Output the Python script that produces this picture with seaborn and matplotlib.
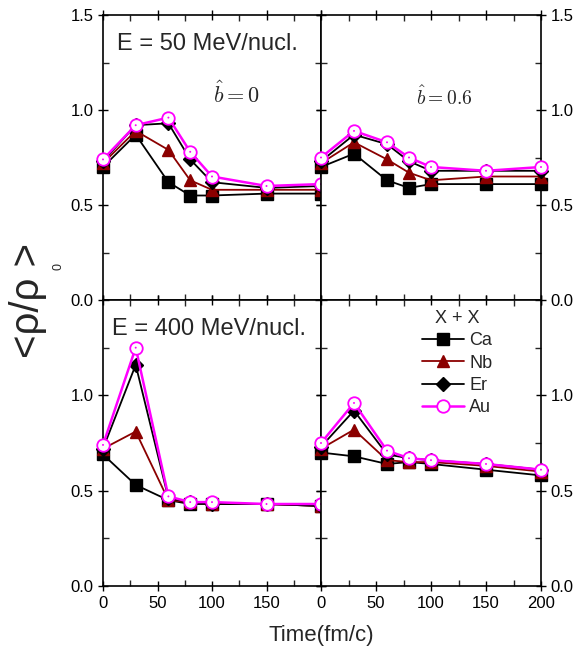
import matplotlib
matplotlib.use("Agg")
import matplotlib.pyplot as plt
import seaborn as sns
import numpy as np
import pandas as pd
from matplotlib.ticker import MultipleLocator

sns.set_theme(style="ticks")
plt.rcParams['font.family'] = ['Liberation Sans', 'DejaVu Sans']

time = [0, 30, 60, 80, 100, 150, 200]
systems = ["Ca", "Nb", "Er", "Au"]

# E = 50 MeV/nucl., b = 0
e50_b0_ca = [0.70, 0.87, 0.62, 0.55, 0.55, 0.56, 0.56]
e50_b0_nb = [0.72, 0.89, 0.79, 0.63, 0.58, 0.58, 0.58]
e50_b0_er = [0.73, 0.92, 0.93, 0.74, 0.62, 0.59, 0.60]
e50_b0_au = [0.74, 0.92, 0.96, 0.78, 0.65, 0.60, 0.61]
# E = 50 MeV/nucl., b = 0.6
e50_b6_ca = [0.70, 0.77, 0.63, 0.59, 0.61, 0.61, 0.61]
e50_b6_nb = [0.72, 0.83, 0.74, 0.67, 0.63, 0.65, 0.65]
e50_b6_er = [0.73, 0.87, 0.82, 0.73, 0.68, 0.68, 0.68]
e50_b6_au = [0.75, 0.89, 0.83, 0.75, 0.70, 0.68, 0.70]
# E = 400 MeV/nucl., b = 0
e400_b0_ca = [0.69, 0.53, 0.45, 0.43, 0.43, 0.43, 0.42]
e400_b0_nb = [0.72, 0.81, 0.45, 0.44, 0.43, 0.43, 0.42]
e400_b0_er = [0.72, 1.16, 0.46, 0.44, 0.43, 0.43, 0.42]
e400_b0_au = [0.74, 1.25, 0.47, 0.44, 0.44, 0.43, 0.43]
# E = 400 MeV/nucl., b = 0.6
e400_b6_ca = [0.70, 0.68, 0.64, 0.65, 0.64, 0.61, 0.58]
e400_b6_nb = [0.72, 0.82, 0.66, 0.65, 0.65, 0.63, 0.60]
e400_b6_er = [0.73, 0.92, 0.69, 0.67, 0.66, 0.64, 0.61]
e400_b6_au = [0.75, 0.96, 0.71, 0.67, 0.66, 0.64, 0.61]

panels = [
    [e50_b0_ca, e50_b0_nb, e50_b0_er, e50_b0_au],
    [e50_b6_ca, e50_b6_nb, e50_b6_er, e50_b6_au],
    [e400_b0_ca, e400_b0_nb, e400_b0_er, e400_b0_au],
    [e400_b6_ca, e400_b6_nb, e400_b6_er, e400_b6_au],
]

styles = {
    "Ca": dict(color="black", marker="s", ms=8, mfc="black", mec="black", lw=1.3),
    "Nb": dict(color="#8B0000", marker="^", ms=9, mfc="#8B0000", mec="#8B0000", lw=1.3),
    "Er": dict(color="black", marker="D", ms=7, mfc="black", mec="black", lw=1.3),
    "Au": dict(color="#FF00FF", marker="o", ms=9, mfc="white", mec="#FF00FF", lw=1.8, mew=1.3),
}

fig = plt.figure(figsize=(5.79, 6.51), dpi=100)
W = 579; H = 651
def rect(x0, y0, x1, y1):
    return [x0 / W, 1 - y1 / H, (x1 - x0) / W, (y1 - y0) / H]

axes = [
    fig.add_axes(rect(103, 15, 321, 300)),
    fig.add_axes(rect(321, 15, 541, 300)),
    fig.add_axes(rect(103, 300, 321, 586)),
    fig.add_axes(rect(321, 300, 541, 586)),
]

for i, (ax, vals) in enumerate(zip(axes, panels)):
    for name, v in zip(systems, vals):
        df = pd.DataFrame({"t": time, "rho": v})
        st = styles[name]
        sns.lineplot(data=df, x="t", y="rho", ax=ax, color=st["color"], lw=st["lw"],
                     marker=st["marker"], markersize=st["ms"], markerfacecolor=st["mfc"],
                     markeredgecolor=st["mec"], markeredgewidth=st.get("mew", 1.0),
                     label=name, clip_on=False, zorder=3, legend=False)
        if name == "Au":
            sns.scatterplot(data=df, x="t", y="rho", ax=ax, color="#FF00FF", s=2,
                            edgecolor="none", clip_on=False, zorder=4, legend=False)
    ax.set_xlim(0, 200)
    ax.set_ylim(0, 1.5)
    ax.set_xlabel("")
    ax.set_ylabel("")
    ax.xaxis.set_major_locator(MultipleLocator(50))
    ax.xaxis.set_minor_locator(MultipleLocator(25))
    ax.yaxis.set_major_locator(MultipleLocator(0.5))
    ax.yaxis.set_minor_locator(MultipleLocator(0.25))
    ax.tick_params(which="major", direction="inout", length=7, width=1, top=True, right=True,
                   labelsize=12, colors="black")
    ax.tick_params(which="minor", direction="in", length=4, width=1, top=True, right=True)
    for s in ax.spines.values():
        s.set_linewidth(1.2)
        s.set_color("black")
    right = i % 2 == 1
    bottom = i >= 2
    ax.tick_params(labelleft=not right, labelright=right, labelbottom=bottom)
    if bottom:
        ax.set_yticks([0.0, 0.5, 1.0])
        ax.set_yticklabels(["0.0", "0.5", "1.0"])
        ax.yaxis.set_minor_locator(MultipleLocator(0.25))
        if not right:
            ax.set_xticks([0, 50, 100, 150])
            ax.xaxis.set_minor_locator(MultipleLocator(25))
        else:
            ax.set_xticks([0, 50, 100, 150, 200])
    else:
        ax.set_yticks([0.0, 0.5, 1.0, 1.5])
        ax.set_yticklabels(["0.0", "0.5", "1.0", "1.5"])

axes[0].text(0.065, 0.9, "E = 50 MeV/nucl.", transform=axes[0].transAxes, fontsize=17, va="center")
axes[2].text(0.04, 0.9, "E = 400 MeV/nucl.", transform=axes[2].transAxes, fontsize=17, va="center")
axes[0].text(0.61, 0.72, r"$\hat{b}=0$", transform=axes[0].transAxes, fontsize=16,
             ha="center", va="center", math_fontfamily="cm")
axes[1].text(0.56, 0.71, r"$\hat{b}=0.6$", transform=axes[1].transAxes, fontsize=14,
             ha="center", va="center", math_fontfamily="cm")

leg = axes[3].legend(title="X + X", loc="upper center", bbox_to_anchor=(0.62, 1.01), frameon=False,
                     fontsize=13, title_fontsize=13, handlelength=2.3, handletextpad=0.3,
                     labelspacing=0.3, borderaxespad=0.3)

# y label: <ρ/ρ0> with a strongly lowered subscript
fig.text(28 / W, 1 - 300 / H, "<ρ/ρ >", rotation=90, fontsize=29,
         ha="center", va="center")
fig.text(59 / W, 1 - 267 / H, "0", rotation=90, fontsize=9, ha="center", va="center")
fig.text(321 / W, 1 - 636 / H, "Time(fm/c)", fontsize=16, ha="center", va="center")

fig.savefig("out.png", dpi=100)
